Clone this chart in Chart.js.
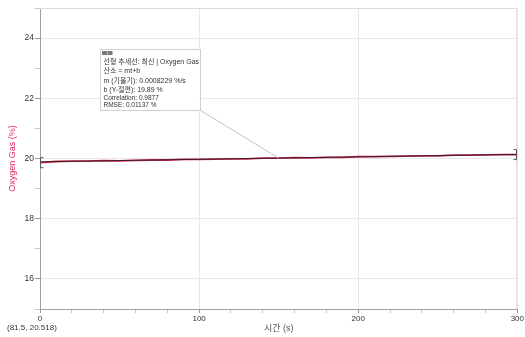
<!DOCTYPE html>
<html>
<head>
<meta charset="utf-8">
<script src="https://cdn.jsdelivr.net/npm/chart.js@4.4.1/dist/chart.umd.min.js"></script>
<style>
  html, body { margin: 0; padding: 0; background: #fff; }
  #wrap { width: 525px; height: 337px; }
</style>
</head>
<body>
<div id="wrap"><canvas id="c" width="525" height="337"></canvas></div>
<script>
// Sensor run: oxygen gas concentration over time
const timeSec = [0, 10, 20, 30, 40, 50, 60, 70, 80, 90, 100, 110, 120, 130, 140, 150,
                 160, 170, 180, 190, 200, 210, 220, 230, 240, 250, 260, 270, 280, 290, 300];
const oxygenPct = [19.86, 19.90, 19.91, 19.91, 19.93, 19.92, 19.94, 19.95, 19.95, 19.97, 19.97,
                   19.98, 19.99, 19.99, 20.01, 20.01, 20.03, 20.02, 20.04, 20.04, 20.06,
                   20.06, 20.07, 20.08, 20.09, 20.09, 20.11, 20.11, 20.12, 20.13, 20.13];

// Linear fit results (m, b)
const fitSlope = 0.0008229;
const fitIntercept = 19.89;
const fitRange = [0, 300];
const fitAnchorTime = 150;

const xMajorTicks = [0, 100, 200, 300];
const yMajorTicks = [16, 18, 20, 22, 24];

const fitTextMain = ['선형 추세선: 최신 | Oxygen Gas', '산소 = mt+b', 'm (기울기): 0.0008229 %/s', 'b (Y-절편): 19.89 %'];
const fitTextStats = ['Correlation: 0.9877', 'RMSE: 0.01137 %'];
const cursorReadout = '(81.5, 20.518)';

const FONT = '"Liberation Sans", Arial, "Noto Sans CJK KR", sans-serif';
const RED = '#d4234d';

const sensorPoints = timeSec.map((t, i) => ({ x: t, y: oxygenPct[i] }));
const fitPoints = fitRange.map(t => ({ x: t, y: fitIntercept + fitSlope * t }));

// Frame, range brackets, fit annotation box and cursor readout
const decorations = {
  id: 'decorations',
  beforeDatasetsDraw(chart) {
    const { ctx, chartArea: a } = chart;
    ctx.save();
    ctx.strokeStyle = '#dcdcdc';
    ctx.lineWidth = 1;
    ctx.beginPath();
    ctx.moveTo(a.left, a.top + 0.5);
    ctx.lineTo(a.right - 0.5, a.top + 0.5);
    ctx.lineTo(a.right - 0.5, a.bottom);
    ctx.stroke();
    ctx.restore();
  },
  afterDatasetsDraw(chart) {
    const { ctx } = chart;
    const xs = chart.scales.x, ys = chart.scales.y;
    ctx.save();

    // selection brackets at both ends of the data
    ctx.strokeStyle = '#555';
    ctx.lineWidth = 1;
    const drawBracket = (t, v, dir) => {
      const px = Math.round(xs.getPixelForValue(t)) + (dir > 0 ? 0.5 : -0.5);
      const py = ys.getPixelForValue(v);
      ctx.beginPath();
      ctx.moveTo(px + 3 * dir, py - 5);
      ctx.lineTo(px, py - 5);
      ctx.lineTo(px, py + 5);
      ctx.lineTo(px + 3 * dir, py + 5);
      ctx.stroke();
    };
    drawBracket(timeSec[0], oxygenPct[0], 1);
    drawBracket(timeSec[timeSec.length - 1], oxygenPct[oxygenPct.length - 1], -1);

    // annotation box for the linear fit
    const bx = 100.5, by = 49.5, bw = 100, bh = 61;
    const ax = xs.getPixelForValue(fitAnchorTime);
    const ay = ys.getPixelForValue(fitIntercept + fitSlope * fitAnchorTime);
    ctx.strokeStyle = '#c4c4c4';
    ctx.beginPath();
    ctx.moveTo(bx + bw, by + bh);
    ctx.lineTo(ax, ay);
    ctx.stroke();

    ctx.fillStyle = 'rgba(255,255,255,0.92)';
    ctx.fillRect(bx, by, bw, bh);
    ctx.strokeStyle = '#d0d0d0';
    ctx.strokeRect(bx, by, bw, bh);

    ctx.fillStyle = '#7a7a7a';
    ctx.fillRect(102, 51, 5, 4);
    ctx.fillRect(107.5, 51, 5, 4);

    ctx.fillStyle = '#333';
    ctx.textAlign = 'left';
    ctx.textBaseline = 'middle';
    ctx.font = '7px ' + FONT;
    fitTextMain.forEach((s, i) => ctx.fillText(s, 103.5, 61.7 + i * 9.5));
    ctx.font = '6.5px ' + FONT;
    fitTextStats.forEach((s, i) => ctx.fillText(s, 103.5, 98.3 + i * 7));

    // cursor readout below the axis origin
    ctx.font = '8px ' + FONT;
    ctx.fillStyle = '#333';
    ctx.fillText(cursorReadout, 7, 327.5);
    ctx.restore();
  }
};

new Chart(document.getElementById('c'), {
  type: 'line',
  data: {
    datasets: [
      {
        label: 'Linear fit',
        data: fitPoints,
        borderColor: 'rgba(30,30,30,0.85)',
        borderWidth: 1,
        pointRadius: 0,
        fill: false
      },
      {
        label: 'Oxygen Gas',
        data: sensorPoints,
        borderColor: RED,
        borderWidth: 1.8,
        pointRadius: 0,
        tension: 0,
        fill: false
      }
    ]
  },
  options: {
    responsive: false,
    devicePixelRatio: 1,
    animation: false,
    layout: { padding: { top: 8, right: 7, left: 0, bottom: 0 } },
    plugins: {
      legend: { display: false },
      tooltip: { enabled: false }
    },
    scales: {
      x: {
        type: 'linear',
        min: 0,
        max: 300,
        afterFit(s) { s.height = 28; },
        ticks: {
          stepSize: 20,
          autoSkip: false,
          maxRotation: 0,
          padding: 1,
          color: '#333',
          font: { family: FONT, size: 8 },
          callback: v => (xMajorTicks.includes(v) ? String(v) : '')
        },
        grid: {
          color: c => (c.tick && xMajorTicks.includes(c.tick.value) && c.tick.value !== 0 ? '#e8e8e8' : 'rgba(0,0,0,0)'),
          tickColor: c => (c.tick && xMajorTicks.includes(c.tick.value) ? '#999' : '#c8c8c8'),
          tickLength: 4
        },
        border: { color: '#a0a0a0' },
        title: {
          display: true,
          text: '시간 (s)',
          color: '#555',
          font: { family: FONT, size: 9 },
          padding: { top: 0, bottom: 3.5 }
        }
      },
      y: {
        min: 15,
        max: 25,
        afterFit(s) { s.width = 40; },
        ticks: {
          stepSize: 1,
          autoSkip: false,
          padding: 1,
          color: '#333',
          font: { family: FONT, size: 8.5 },
          callback: v => (yMajorTicks.includes(v) ? String(v) : '')
        },
        grid: {
          color: c => (c.tick && yMajorTicks.includes(c.tick.value) ? '#e8e8e8' : 'rgba(0,0,0,0)'),
          tickColor: c => (c.tick && yMajorTicks.includes(c.tick.value) ? '#999' : '#c8c8c8'),
          tickLength: 5
        },
        border: { color: '#a0a0a0' },
        title: {
          display: true,
          text: 'Oxygen Gas (%)',
          color: '#e0285a',
          font: { family: FONT, size: 9 },
          padding: { top: 7, bottom: 0 }
        }
      }
    }
  },
  plugins: [decorations]
});
</script>
</body>
</html>
